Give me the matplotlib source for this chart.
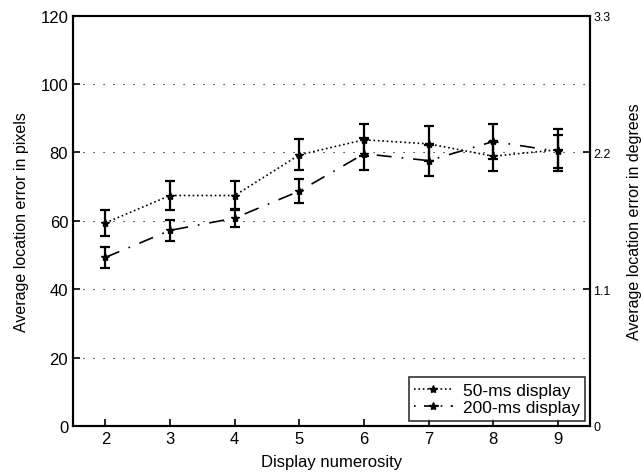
import numpy as np
import matplotlib.pyplot as plt
from matplotlib.lines import Line2D

plt.rcParams['font.family'] = ['Liberation Sans', 'DejaVu Sans']

# data
numerosity = [2, 3, 4, 5, 6, 7, 8, 9]
err50_mean = [59.4, 67.4, 67.4, 79.3, 83.7, 82.5, 78.9, 80.8]
err50_sem = [3.7, 4.1, 4.1, 4.5, 4.7, 5.1, 4.2, 6.1]
err200_mean = [49.3, 57.2, 60.8, 68.7, 79.6, 77.6, 83.2, 80.3]
err200_sem = [3.1, 3.1, 2.7, 3.5, 4.7, 4.5, 5.2, 4.9]

deg_ticks = [0, 1.1, 2.2, 3.3]
px_per_deg = 120 / 3.3

dotted = ':'
dashdot = (0, (9, 6, 1, 6))

fig = plt.figure(figsize=(6.41, 4.77), dpi=100)
ax = fig.add_axes([0.114, 0.105, 0.807, 0.860])

ax.errorbar(numerosity, err50_mean, yerr=err50_sem, color='black',
            linestyle=dotted, linewidth=1.2, marker='*', markersize=6,
            capsize=3.5, elinewidth=1.6, capthick=1.6)
ax.errorbar(numerosity, err200_mean, yerr=err200_sem, color='black',
            linestyle=dashdot, linewidth=1.2, marker='*', markersize=6,
            capsize=3.5, elinewidth=1.6, capthick=1.6)

ax.set_xlim(1.5, 9.5)
ax.set_ylim(0, 120)
ax.set_xticks(numerosity)
ax.set_yticks(np.arange(0, 121, 20))
ax.yaxis.grid(True, color='black', linestyle=(0, (1, 8)), linewidth=0.8)
ax.tick_params(direction='in', labelsize=12, width=1.2, length=5)
for s in ax.spines.values():
    s.set_linewidth(1.5)

ax.set_xlabel('Display numerosity', fontsize=12, labelpad=6)
ax.set_ylabel('Average location error in pixels', fontsize=11.5, labelpad=8)

ax2 = ax.twinx()
ax2.set_ylim(0, 120)
ax2.set_yticks([d * px_per_deg for d in deg_ticks])
ax2.set_yticklabels(['0', '1.1', '2.2', '3.3'])
ax2.tick_params(direction='in', labelsize=9, width=1.2, length=5, pad=2)
ax2.set_ylabel('Average location error in degrees', fontsize=11.5, labelpad=12)
for s in ax2.spines.values():
    s.set_linewidth(1.5)

handles = [
    Line2D([], [], color='black', linestyle=dotted, linewidth=1.2,
           marker='*', markersize=6),
    Line2D([], [], color='black', linestyle=(0, (1, 5, 9, 1)), linewidth=1.2,
           marker='*', markersize=6),
]
leg = ax2.legend(handles, ['50-ms display', '200-ms display'],
                 loc='lower right', fontsize=12.5, frameon=True,
                 fancybox=False, edgecolor='black', handlelength=2.2,
                 borderaxespad=0.3, borderpad=0.3, labelspacing=0.15,
                 handletextpad=0.6)
leg.get_frame().set_linewidth(1.2)

fig.savefig('out.png', dpi=100)
